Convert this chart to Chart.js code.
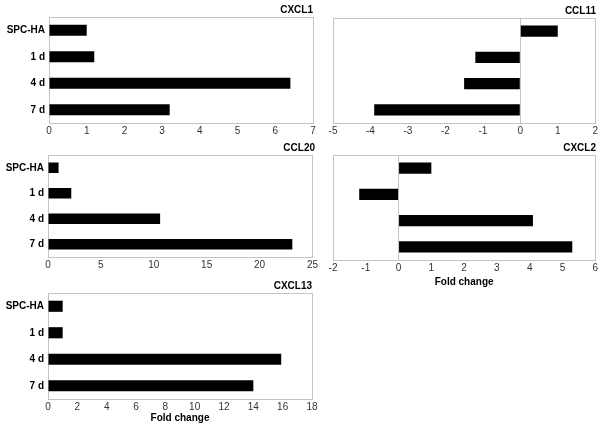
<!DOCTYPE html>
<html>
<head>
<meta charset="utf-8">
<script src="https://cdn.jsdelivr.net/npm/chart.js@4/dist/chart.umd.min.js"></script>
<style>
  html, body { margin: 0; padding: 0; background: #fff; }
  #wrap { position: relative; width: 600px; height: 426px; overflow: hidden; }
  canvas { position: absolute; }
</style>
</head>
<body>
<div id="wrap"></div>
<script>
// chart data
const categories = ['SPC-HA', '1 d', '4 d', '7 d'];
const cxcl1 = [1.0, 1.2, 6.4, 3.2];
const ccl11 = [1.0, -1.2, -1.5, -3.9];
const ccl20 = [1.0, 2.2, 10.6, 23.1];
const cxcl2 = [1.0, -1.2, 4.1, 5.3];
const cxcl13 = [1.0, 1.0, 15.9, 14.0];

const xTitle = 'Fold change';
const FONT = "'Liberation Sans', Arial, sans-serif";

// draws the grey box round the plot area
const framePlugin = {
    id: 'frame',
    beforeDatasetsDraw(chart) {
        const a = chart.chartArea;
        const ctx = chart.ctx;
        ctx.save();
        ctx.strokeStyle = '#c4c4c4';
        ctx.lineWidth = 1;
        ctx.strokeRect(Math.round(a.left) + 0.5, Math.round(a.top) + 0.5,
            Math.round(a.right - a.left), Math.round(a.bottom - a.top));
        ctx.restore();
    }
};

function makePanel(p) {
    const canvas = document.createElement('canvas');
    canvas.width = p.w;
    canvas.height = p.h;
    canvas.style.left = p.x + 'px';
    canvas.style.top = p.y + 'px';
    document.getElementById('wrap').appendChild(canvas);

    const yW = p.area.l - p.x;
    const padRight = p.x + p.w - p.area.r;
    const topOff = p.area.t - p.y;
    const xH = p.y + p.h - p.area.b;

    new Chart(canvas, {
        type: 'bar',
        data: {
            labels: categories,
            datasets: [{
                data: p.values,
                backgroundColor: '#000',
                borderWidth: 0,
                barPercentage: 0.42,
                categoryPercentage: 1
            }]
        },
        plugins: [framePlugin],
        options: {
            indexAxis: 'y',
            responsive: false,
            animation: false,
            devicePixelRatio: 1,
            layout: { padding: { left: 0, right: padRight, top: 0, bottom: 0 } },
            plugins: {
                legend: { display: false },
                tooltip: { enabled: false },
                title: {
                    display: true,
                    text: p.title,
                    align: 'end',
                    color: '#000',
                    font: { family: FONT, size: 10, weight: 'bold', lineHeight: 1.2 },
                    padding: { top: topOff - 13, bottom: 1 }
                }
            },
            scales: {
                x: {
                    min: p.min,
                    max: p.max,
                    ticks: {
                        stepSize: p.step,
                        color: '#333',
                        padding: 2,
                        font: { family: FONT, size: 10 }
                    },
                    grid: {
                        drawTicks: false,
                        color: (ctx) => (ctx.tick && ctx.tick.value === 0 && p.min < 0) ? '#c4c4c4' : 'rgba(0,0,0,0)'
                    },
                    border: { display: false },
                    title: {
                        display: !!p.showTitle,
                        text: xTitle,
                        color: '#000',
                        padding: 0,
                        font: { family: FONT, size: 10, weight: 'bold', lineHeight: 1.2 }
                    },
                    afterFit(scale) { scale.height = xH; }
                },
                y: {
                    ticks: {
                        display: !!p.showCats,
                        color: '#000',
                        padding: 4,
                        font: { family: FONT, size: 10, weight: 'bold' }
                    },
                    grid: { display: false, drawTicks: false, tickLength: 0 },
                    border: { display: false },
                    afterFit(scale) { scale.width = yW; }
                }
            }
        }
    });
}

makePanel({ title: 'CXCL1', values: cxcl1, min: 0, max: 7, step: 1, showCats: true,
    x: 0, y: 0, w: 320, h: 140, area: { l: 49, t: 17, r: 313, b: 123 } });
makePanel({ title: 'CCL11', values: ccl11, min: -5, max: 2, step: 1, showCats: false,
    x: 310, y: 0, w: 290, h: 140, area: { l: 333, t: 18, r: 596, b: 123 } });
makePanel({ title: 'CCL20', values: ccl20, min: 0, max: 25, step: 5, showCats: true,
    x: 0, y: 140, w: 320, h: 135, area: { l: 48, t: 155, r: 315, b: 257 } });
makePanel({ title: 'CXCL2', values: cxcl2, min: -2, max: 6, step: 1, showCats: false, showTitle: true,
    x: 310, y: 140, w: 290, h: 148, area: { l: 333, t: 155, r: 596, b: 260 } });
makePanel({ title: 'CXCL13', values: cxcl13, min: 0, max: 18, step: 2, showCats: true, showTitle: true,
    x: 0, y: 280, w: 320, h: 144, area: { l: 48, t: 293, r: 312, b: 399 } });
</script>
</body>
</html>
